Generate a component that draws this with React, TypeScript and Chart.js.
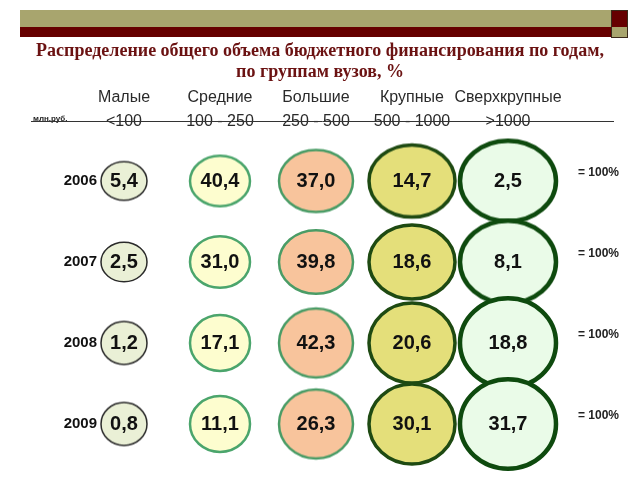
import { useEffect, useRef } from "react";
import { Chart, registerables } from "chart.js";

Chart.register(...registerables);

// ---------- data ----------
const titleLines = [
  "Распределение общего объема бюджетного финансирования по годам,",
  "по группам вузов, %",
];
const groups = ["Малые", "Средние", "Большие", "Крупные", "Сверхкрупные"];
const ranges = ["<100", "100 - 250", "250 - 500", "500 - 1000", ">1000"];
const unitLabel = "млн.руб.";
const years = ["2006", "2007", "2008", "2009"];
const totalLabel = "= 100%";

const smallShare = [5.4, 2.5, 1.2, 0.8];
const mediumShare = [40.4, 31.0, 17.1, 11.1];
const largeShare = [37.0, 39.8, 42.3, 26.3];
const bigShare = [14.7, 18.6, 20.6, 30.1];
const hugeShare = [2.5, 8.1, 18.8, 31.7];
const seriesValues = [smallShare, mediumShare, largeShare, bigShare, hugeShare];

// ---------- styles ----------
const SANS = 'Arial, "Liberation Sans", sans-serif';
const SERIF = '"Liberation Serif", "Times New Roman", serif';
const bubbleStyles = [
  { fill: "#eaf0d6", stroke: "#2a2a2a", lw: 1.5, rx: 23 },
  { fill: "#fdfdcf", stroke: "#4ba56c", lw: 2.5, rx: 30 },
  { fill: "#f8c49c", stroke: "#4a9c66", lw: 2.5, rx: 37 },
  { fill: "#e4df7a", stroke: "#1e4a12", lw: 3.5, rx: 43 },
  { fill: "#eafbe8", stroke: "#0e4a0e", lw: 4.5, rx: 48 },
];
const rowAspect = [0.84, 0.86, 0.93, 0.93];

function makeEllipse(st: any, aspect: number) {
  const rx = st.rx;
  const ry = st.rx * aspect;
  const pad = Math.ceil(st.lw / 2) + 1;
  const c = document.createElement("canvas");
  c.width = Math.ceil(2 * rx + 2 * pad);
  c.height = Math.ceil(2 * ry + 2 * pad);
  const g = c.getContext("2d")!;
  g.beginPath();
  g.ellipse(c.width / 2, c.height / 2, rx, ry, 0, 0, Math.PI * 2);
  g.fillStyle = st.fill;
  g.fill();
  g.lineWidth = st.lw;
  g.strokeStyle = st.stroke;
  g.stroke();
  return c;
}

const fmt = (v: number) => v.toFixed(1).replace(".", ",");

const decorPlugin = {
  id: "decor",
  beforeDraw(chart: any) {
    const ctx = chart.ctx;
    ctx.save();
    ctx.fillStyle = "#ffffff";
    ctx.fillRect(0, 0, chart.width, chart.height);
    // header band
    ctx.fillStyle = "#a8a56e";
    ctx.fillRect(20, 10, 591, 17);
    ctx.fillStyle = "#660000";
    ctx.fillRect(20, 27, 592, 10);
    ctx.fillStyle = "#660000";
    ctx.fillRect(611, 10, 16, 17);
    ctx.fillStyle = "#a8a56e";
    ctx.fillRect(612, 27, 15, 10);
    ctx.strokeStyle = "#3a2a1a";
    ctx.lineWidth = 1;
    ctx.strokeRect(611.5, 10.5, 16, 27);
    ctx.restore();
  },
  afterDatasetsDraw(chart: any) {
    const ctx = chart.ctx;
    ctx.save();
    ctx.textAlign = "center";
    ctx.textBaseline = "middle";
    ctx.fillStyle = "#111111";
    ctx.font = `bold 20px ${SANS}`;
    chart.data.datasets.forEach((ds: any, di: number) => {
      const meta = chart.getDatasetMeta(di);
      meta.data.forEach((el: any, i: number) => {
        ctx.fillText(fmt(ds.data[i].v), el.x, el.y);
      });
    });
    // "= 100%" per row
    const yScale = chart.scales.y;
    ctx.textAlign = "left";
    ctx.font = `bold 12px ${SANS}`;
    ctx.fillStyle = "#222222";
    years.forEach((yr) => {
      ctx.fillText(totalLabel, 578, yScale.getPixelForValue(years.indexOf(yr)) - 8);
    });
    ctx.restore();
  },
  afterDraw(chart: any) {
    const ctx = chart.ctx;
    ctx.save();
    ctx.font = `bold 8px ${SANS}`;
    ctx.fillStyle = "#222222";
    ctx.textAlign = "left";
    ctx.textBaseline = "middle";
    ctx.fillText(unitLabel, 33, 119);
    ctx.strokeStyle = "#333333";
    ctx.lineWidth = 1;
    ctx.beginPath();
    ctx.moveTo(31, 121.5);
    ctx.lineTo(614, 121.5);
    ctx.stroke();
    ctx.restore();
  },
};

export default function App() {
  const ref = useRef<HTMLCanvasElement | null>(null);
  useEffect(() => {
    if (!ref.current) return;
    const images = bubbleStyles.map((st) => rowAspect.map((a) => makeEllipse(st, a)));
    const chart = new Chart(ref.current, {
      type: "bubble",
      data: {
        datasets: seriesValues.map((vals, c) => ({
          label: groups[c],
          data: vals.map((v, r) => ({ x: groups[c], y: years[r], v })) as any,
          radius: bubbleStyles[c].rx,
          pointStyle: (ctx: any) => images[c][ctx.dataIndex],
          clip: false as any,
        })),
      },
      plugins: [decorPlugin],
      options: {
        animation: false,
        responsive: false,
        events: [],
        layout: { padding: { top: 0, bottom: 56, left: 0, right: 0 } },
        plugins: {
          legend: { display: false },
          tooltip: { enabled: false },
          title: {
            display: true,
            text: titleLines,
            color: "#6b1212",
            font: { family: SERIF, size: 18, weight: "bold", lineHeight: 1.15 },
            padding: { top: 41, bottom: 0 },
          },
        },
        scales: {
          x: {
            type: "category",
            labels: groups,
            position: "top",
            offset: false,
            grid: { display: false, drawTicks: false },
            border: { display: false },
            ticks: {
              padding: 47,
              color: "#2a2a2a",
              font: { family: SANS, size: 16, lineHeight: 1.5 },
              maxRotation: 0,
              autoSkip: false,
              callback: (_v: any, i: number) => [groups[i], ranges[i]],
            },
            afterFit: (s: any) => {
              s.height = 98.6;
            },
          },
          y: {
            type: "category",
            labels: years,
            position: "left",
            offset: false,
            grid: { display: false, drawTicks: false },
            border: { display: false },
            ticks: {
              padding: 27,
              color: "#111111",
              font: { family: SANS, size: 15, weight: "bold" },
            },
            afterFit: (s: any) => {
              s.width = 124;
            },
          },
          y2: {
            type: "linear",
            position: "right",
            grid: { display: false, drawTicks: false },
            border: { display: false },
            ticks: { display: false },
            afterFit: (s: any) => {
              s.width = 132;
            },
          },
        },
      },
    } as any);
    return () => chart.destroy();
  }, []);
  return (
    <div style={{ position: "fixed", left: 0, top: 0, width: 640, height: 480, background: "#fff" }}>
      <canvas ref={ref} width={640} height={480} style={{ display: "block", width: 640, height: 480 }} />
    </div>
  );
}
